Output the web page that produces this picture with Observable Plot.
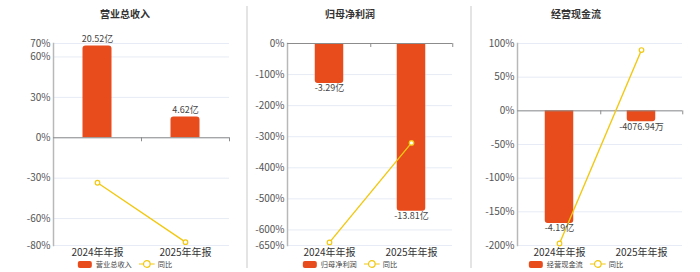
<!DOCTYPE html>
<html><head><meta charset="utf-8">
<script src="https://cdn.jsdelivr.net/npm/d3@7"></script>
<script src="https://cdn.jsdelivr.net/npm/@observablehq/plot@0.6"></script>
<style>
body{margin:0;background:#fff;}
#wrap{position:relative;width:700px;height:272px;font-family:"Noto Sans CJK SC","Noto Sans",sans-serif;overflow:hidden;background:#fff;}
.panel{position:absolute;top:0;}
.title{position:absolute;top:7px;font-size:10px;font-weight:bold;color:#333;transform:translateX(-50%);white-space:nowrap;line-height:14px;}
.legend{position:absolute;top:260.5px;transform:translateX(-50%);display:flex;align-items:center;font-size:7.2px;color:#444;white-space:nowrap;line-height:7px;height:7px;}
.legend .sw{display:inline-block;width:14px;height:7px;border-radius:2px;margin-right:4px;}
.legend svg{margin:0 3px 0 7px;}
.sep{position:absolute;top:6px;width:2px;height:262px;background:#e4e4e4;}
</style></head>
<body><div id="wrap"></div>
<script>
const categories = ["2024年年报", "2025年年报"];
const titles = ["营业总收入", "归母净利润", "经营现金流"];
const yoyName = "同比";

const revenueValues = [20.52, 4.62];      // 亿
const revenueYoY = [-33.4, -77.5];        // %
const revenueLabels = ["20.52亿", "4.62亿"];
const revenueTicks = [70, 60, 30, 0, -30, -60, -80];

const profitValues = [-3.29, -13.81];     // 亿
const profitYoY = [-640, -319.8];         // %
const profitLabels = ["-3.29亿", "-13.81亿"];
const profitTicks = [0, -100, -200, -300, -400, -500, -600, -650];

const cashValues = [-4.19, -0.4077];      // 亿
const cashYoY = [-197, 90.3];             // %
const cashLabels = ["-4.19亿", "-4076.94万"];
const cashTicks = [100, 50, 0, -50, -100, -150, -200];

const BAR = "#e84b1c", LINE = "#f2c811";
const wrap = document.getElementById("wrap");

function panel(o) {
  const rows = categories.map((c, i) => ({cat: c, bar: o.values[i] * o.k, yoy: o.yoy[i], label: o.labels[i]}));
  const plotW = o.width - o.mL - o.mR;
  const step = plotW / categories.length;
  const inset = (step - 29) / 2;
  const pxPerUnit = (272 - 43 - 27) / (o.domain[1] - o.domain[0]);
  const radius = o.above ? {ry1: 3} : {ry2: 3};
  const svg = Plot.plot({
    width: o.width, height: 272,
    marginLeft: o.mL, marginRight: o.mR, marginTop: 43, marginBottom: 27,
    style: {background: "transparent", fontFamily: '"Noto Sans CJK SC","Noto Sans",sans-serif', fontSize: "10px", overflow: "visible"},
    x: {domain: categories, padding: 0, label: null},
    y: {domain: o.domain, label: null},
    marks: [
      Plot.gridY(o.ticks, {stroke: "#e6ebf5", strokeOpacity: 1}),
      Plot.axisY(o.ticks, {tickSize: 0, tickPadding: 3, tickFormat: d => d + "%", label: null, fill: "#555", fontSize: 10}),
      Plot.frame({anchor: "left", stroke: "#b8b8b8", strokeWidth: 1.5}),
      Plot.barY(rows, {x: "cat", y: "bar", fill: BAR, insetLeft: inset, insetRight: inset, ...radius}),
      Plot.ruleY([0], {stroke: "#8c8c8c", strokeWidth: 1}),
      Plot.ruleX(categories, {x: d => d, dx: step / 2, y1: 0, y2: -4 / pxPerUnit, stroke: "#8c8c8c"}),
      Plot.lineY(rows, {x: "cat", y: "yoy", stroke: LINE, strokeWidth: 1.4}),
      Plot.dot(rows, {x: "cat", y: "yoy", r: 2.3, fill: "#fff", stroke: LINE, strokeWidth: 1.2}),
      Plot.text(rows, {x: "cat", y: "bar", text: "label", dy: o.above ? -7 : 5, fill: "#444", fontSize: 9}),
      Plot.axisX({tickSize: 0, tickPadding: 3.5, label: null, fill: "#333", fontSize: 10, anchor: "bottom"})
    ]
  });
  const div = document.createElement("div");
  div.className = "panel";
  div.style.left = o.left + "px";
  div.appendChild(svg);
  wrap.appendChild(div);

  const t = document.createElement("div");
  t.className = "title";
  t.style.left = o.center + "px";
  t.textContent = o.title;
  wrap.appendChild(t);

  const lg = document.createElement("div");
  lg.className = "legend";
  lg.style.left = o.center + "px";
  lg.innerHTML = `<span class="sw" style="background:${BAR}"></span><span>${o.title}</span>` +
    `<svg width="16" height="8"><line x1="0" y1="4" x2="16" y2="4" stroke="${LINE}" stroke-width="1.2"/><circle cx="8" cy="4" r="3.3" fill="#fff" stroke="${LINE}" stroke-width="1.2"/></svg><span>${yoyName}</span>`;
  wrap.appendChild(lg);
}

panel({left: 0, width: 240, mL: 53, mR: 11, values: revenueValues, yoy: revenueYoY, labels: revenueLabels,
  ticks: revenueTicks, domain: [-80, 70], k: 3.32, above: true, title: titles[0], center: 125});
panel({left: 247, width: 224, mL: 40, mR: 19, values: profitValues, yoy: profitYoY, labels: profitLabels,
  ticks: profitTicks, domain: [-650, 0], k: 39.1, above: false, title: titles[1], center: 350});
panel({left: 471, width: 229, mL: 46, mR: 18, values: cashValues, yoy: cashYoY, labels: cashLabels,
  ticks: cashTicks, domain: [-200, 100], k: 39.9, above: false, title: titles[2], center: 576});

for (const x of [246, 470]) {
  const s = document.createElement("div");
  s.className = "sep";
  s.style.left = x + "px";
  wrap.appendChild(s);
}
</script></body></html>
